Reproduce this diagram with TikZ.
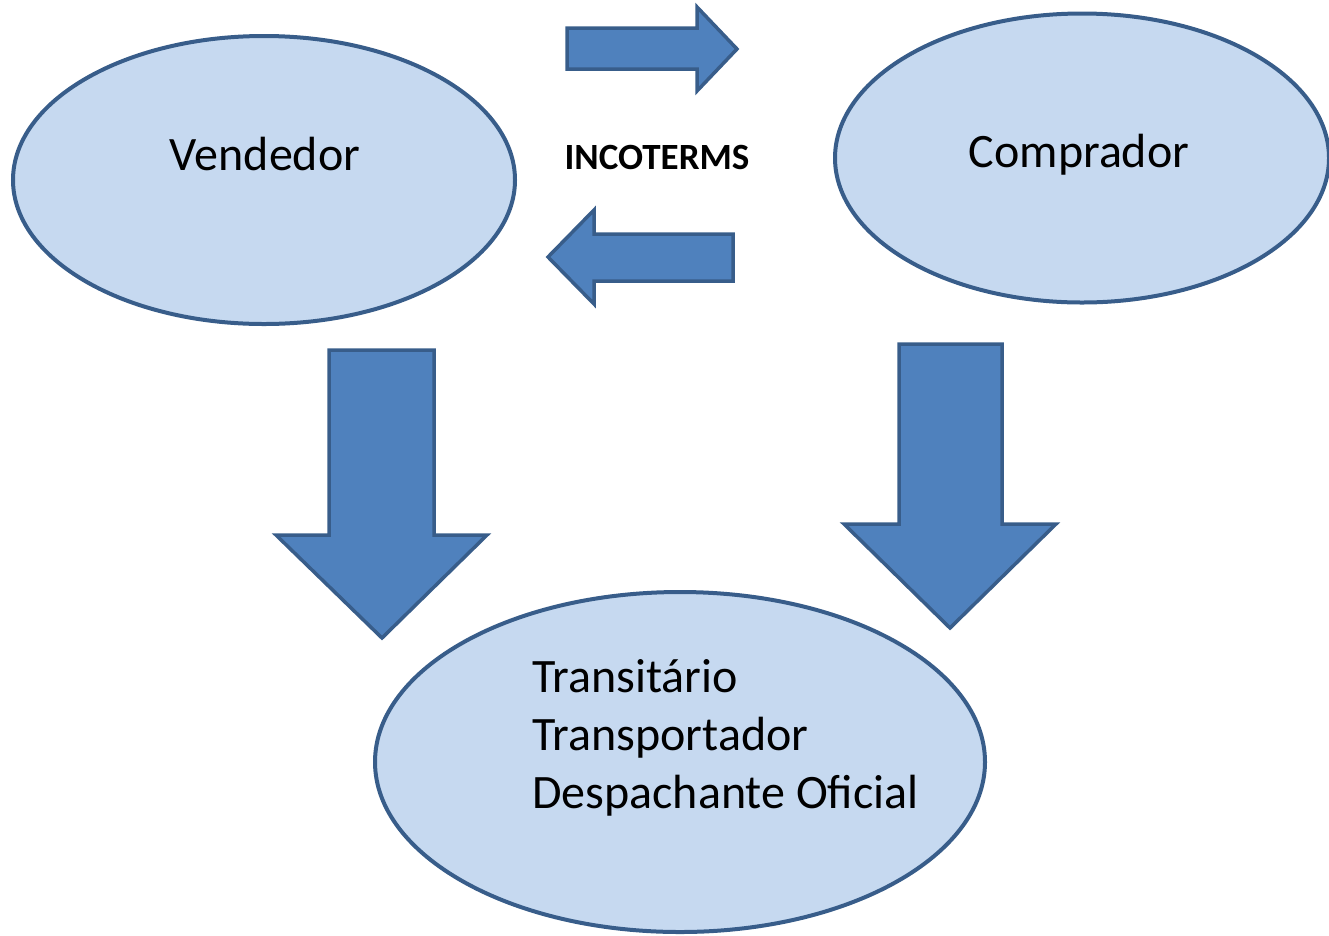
\documentclass[tikz,border=0pt]{standalone}
\usepackage{fontspec}
\setmainfont{Carlito}
\usetikzlibrary{shapes.geometric}
\definecolor{bubblefill}{HTML}{C6D9F0}
\definecolor{arrowfill}{HTML}{4F81BD}
\definecolor{edgeblue}{HTML}{385D8A}

\begin{document}
\begin{tikzpicture}[x=1pt, y=-1pt,
                    line join=miter,
                    bubble/.style={ellipse, draw=edgeblue, fill=bubblefill, line width=4pt, inner sep=0pt},
                    blockarrow/.style={draw=edgeblue, fill=arrowfill, line width=3.5pt},
                    bigtext/.style={font=\fontsize{48}{58}\selectfont, inner sep=0pt}]
  \useasboundingbox (0,0) rectangle (1329,935);

  % the parties
  \node[bubble, minimum width=502pt, minimum height=288pt] (vend) at (264,180) {};
  \node[bubble, minimum width=494pt, minimum height=289pt] (comp) at (1082,158) {};
  \node[bubble, minimum width=610pt, minimum height=340pt] (agents) at (680,762) {};

  \node[bigtext] (vendtxt) at (265,154) {Vendedor};
  \node[bigtext] (comptxt) at (1079,155) {Comprador};
  \node[bigtext, align=left, anchor=west] (agentstxt) at (532,738)
    {Transitário\\Transportador\\Despachante Oficial};

  % contract in between
  \node[font=\fontsize{37}{44}\selectfont\bfseries, inner sep=0pt] (inco) at (657,157) {INCOTERMS};

  % block arrows
  \draw[blockarrow] (567,28) -- (697,28) -- (697,7) -- (737,49) -- (697,91) -- (697,69) -- (567,69) -- cycle;
  \draw[blockarrow] (733,234) -- (594,234) -- (594,210) -- (548,257) -- (594,304) -- (594,281) -- (733,281) -- cycle;
  \draw[blockarrow] (329,350) -- (434,350) -- (434,535) -- (487,535) -- (382,638) -- (276,535) -- (329,535) -- cycle;
  \draw[blockarrow] (899,344) -- (1002,344) -- (1002,524) -- (1056,524) -- (950,628) -- (844,524) -- (899,524) -- cycle;
\end{tikzpicture}
\end{document}
